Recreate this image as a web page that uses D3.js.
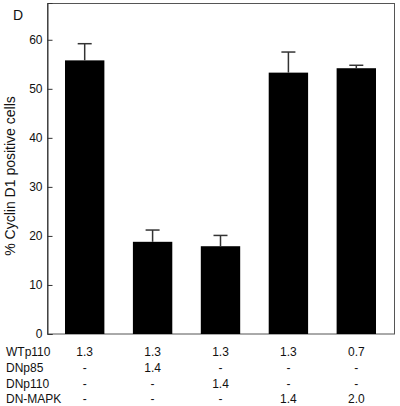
<!DOCTYPE html>
<html><head><meta charset="utf-8">
<script src="https://cdn.jsdelivr.net/npm/d3@7"></script>
<style>body{margin:0;background:#fff}svg{display:block}text{font-family:Arial,"Liberation Sans",sans-serif;fill:#111}</style>
</head><body><svg id="c" width="400" height="406"></svg>
<script>
const categories = ["A","B","C","E","F"];
const values = [55.8, 18.8, 17.9, 53.3, 54.2];
const errors = [3.4, 2.4, 2.2, 4.2, 0.6];
const yTicks = [0,10,20,30,40,50,60];
const rowLabels = ["WTp110","DNp85","DNp110","DN-MAPK"];
const WTp110 = ["1.3","1.3","1.3","1.3","0.7"];
const DNp85 = ["-","1.4","-","-","-"];
const DNp110 = ["-","-","1.4","-","-"];
const DNMAPK = ["-","-","-","1.4","2.0"];
const rows = [WTp110, DNp85, DNp110, DNMAPK];

const svg = d3.select("#c");
const L=47.5, R=394.5, T=3, B=334;
const x = d3.scaleBand().domain(categories).range([65,376]).paddingInner(0.42).paddingOuter(0);
const y = d3.scaleLinear().domain([0,67.5]).range([B,T]);

// frame
svg.append("rect").attr("x",L).attr("y",T+0.5).attr("width",R-L).attr("height",B-T-0.5)
  .attr("fill","none").attr("stroke","#555").attr("stroke-width",1);

// bars
svg.selectAll(".bar").data(values).join("rect")
  .attr("x",(d,i)=>x(categories[i])).attr("width",x.bandwidth())
  .attr("y",d=>y(d)).attr("height",d=>B-y(d)).attr("fill","#000");

// error bars
const eg = svg.append("g").attr("stroke","#333").attr("stroke-width",1.5);
values.forEach((v,i)=>{
  const cx = x(categories[i])+x.bandwidth()/2;
  eg.append("line").attr("x1",cx).attr("x2",cx).attr("y1",y(v)).attr("y2",y(v+errors[i]));
  eg.append("line").attr("x1",cx-7).attr("x2",cx+7).attr("y1",y(v+errors[i])).attr("y2",y(v+errors[i]));
});

// y axis
const ax = svg.append("g").attr("transform",`translate(${L},0)`)
  .call(d3.axisRight(y).tickValues(yTicks).tickSize(5).tickFormat(d3.format("d")));
ax.select(".domain").attr("stroke","#333");
ax.selectAll(".tick line").attr("stroke","#333");
ax.selectAll(".tick text").attr("x",-5).attr("text-anchor","end").attr("font-size",12)
  .attr("font-family","Arial, 'Liberation Sans', sans-serif").attr("fill","#111");

// y label
svg.append("text").attr("transform","translate(15,176) rotate(-90)").attr("text-anchor","middle")
  .attr("font-size",14).text("% Cyclin D1 positive cells");
// panel letter
svg.append("text").attr("x",13).attr("y",20).attr("font-size",14).text("D");

// table
const base = [355.5,371.5,387.5,403];
rowLabels.forEach((lab,r)=>{
  svg.append("text").attr("x",6).attr("y",base[r]).attr("font-size",12).text(lab);
  rows[r].forEach((v,i)=>{
    svg.append("text").attr("x",x(categories[i])+x.bandwidth()/2).attr("y",base[r])
      .attr("text-anchor","middle").attr("font-size",12).text(v);
  });
});
</script></body></html>
